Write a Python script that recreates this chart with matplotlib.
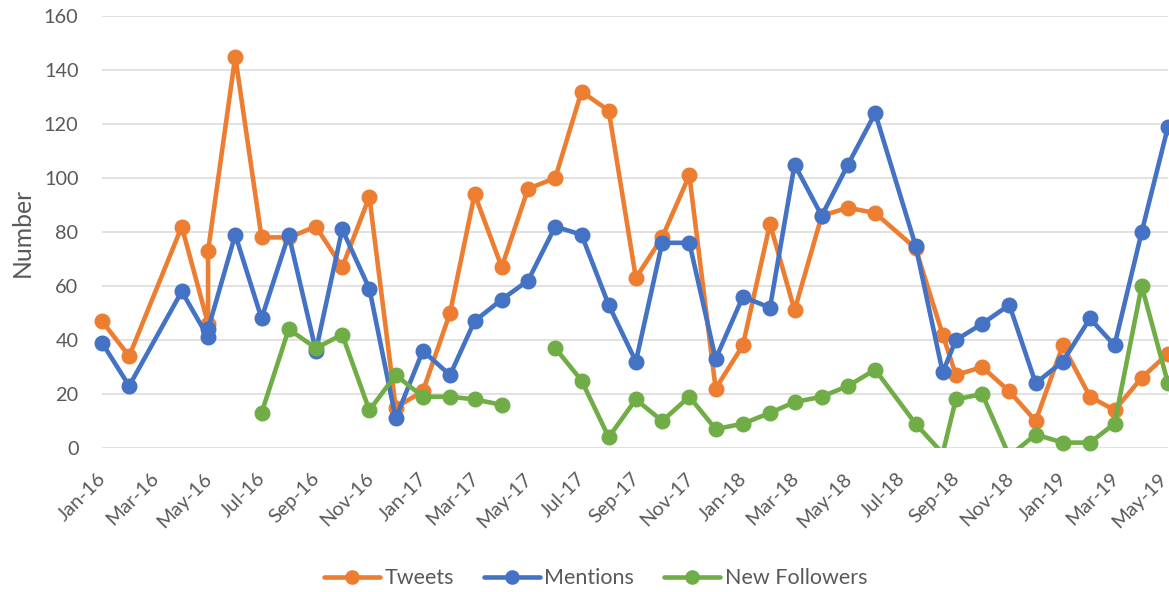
import matplotlib
matplotlib.use("Agg")
import matplotlib.pyplot as plt
from matplotlib.lines import Line2D
from matplotlib.transforms import ScaledTranslation
import numpy as np
import pandas as pd

plt.rcParams['font.family'] = ['Lato', 'DejaVu Sans']

# ---- data ----
dates = pd.to_datetime([
    "2016-01-01", "2016-02-01", "2016-04-01", "2016-05-01", "2016-05-01", "2016-06-01",
    "2016-07-01", "2016-08-01", "2016-09-01", "2016-10-01", "2016-11-01", "2016-12-01",
    "2017-01-01", "2017-02-01", "2017-03-01", "2017-04-01", "2017-05-01", "2017-06-01",
    "2017-07-01", "2017-08-01", "2017-09-01", "2017-10-01", "2017-11-01", "2017-12-01",
    "2018-01-01", "2018-02-01", "2018-03-01", "2018-04-01", "2018-05-01", "2018-06-01",
    "2018-07-17", "2018-08-17", "2018-09-01", "2018-10-01", "2018-11-01", "2018-12-01",
    "2019-01-01", "2019-02-01", "2019-03-01", "2019-04-01", "2019-05-01",
])

tweets = [47, 34, 82, 46, 73, 145, 78, 78, 82, 67, 93, 15,
          21, 50, 94, 67, 96, 100, 132, 125, 63, 78, 101, 22,
          38, 83, 51, 86, 89, 87, 74, 42, 27, 30, 21, 10,
          38, 19, 14, 26, 35]

mentions = [39, 23, 58, 41, 44, 79, 48, 79, 36, 81, 59, 11,
            36, 27, 47, 55, 62, 82, 79, 53, 32, 76, 76, 33,
            56, 52, 105, 86, 105, 124, 75, 28, 40, 46, 53, 24,
            32, 48, 38, 80, 119]

new_followers = [np.nan, np.nan, np.nan, np.nan, np.nan, np.nan, 13, 44, 37, 42, 14, 27,
                 19, 19, 18, 16, np.nan, 37, 25, 4, 18, 10, 19, 7,
                 9, 13, 17, 19, 23, 29, 9, -2, 18, 20, -3, 5,
                 2, 2, 9, 60, 24]

series_names = ["Tweets", "Mentions", "New Followers"]
series_colors = ["#ED7D31", "#4472C4", "#70AD47"]

y_ticks = list(range(0, 161, 20))
x_ticks = pd.date_range("2016-01-01", "2019-05-01", freq="2MS")
x_tick_labels = [d.strftime("%b-%y") for d in x_ticks]

# ---- figure ----
W, H = 1169, 592
fig = plt.figure(figsize=(W / 100, H / 100), dpi=100)
ax = fig.add_axes([102 / W, 1 - 448 / H, (1168 - 102) / W, 432 / H])

text_col = "#595959"
lw = 3.3
ms = 10.5
tick_fs = 14.3

for i, (name, vals, col) in enumerate(zip(series_names, [tweets, mentions, new_followers], series_colors)):
    v = np.array(vals, dtype=float)
    ax.plot(dates, v, color=col, lw=lw, zorder=3 + i,
            solid_joinstyle="round", solid_capstyle="round")
    vm = np.where((v >= 0) & (v <= 160), v, np.nan)
    ax.plot(dates, vm, ls="none", marker="o", ms=ms, color=col,
            clip_on=False, zorder=3 + i)

ax.set_ylim(0, 160)
ax.set_xlim(pd.Timestamp("2016-01-01"), pd.Timestamp("2019-05-01"))
ax.set_yticks(y_ticks)
ax.set_xticks(x_ticks)
ax.set_xticklabels(x_tick_labels, fontsize=tick_fs)

for s in ax.spines.values():
    s.set_visible(False)
ax.grid(axis="y", color="#D9D9D9", lw=1.1)
ax.grid(axis="x", visible=False)
ax.set_axisbelow(True)

ax.tick_params(axis="y", length=0, pad=17, labelsize=tick_fs, labelcolor=text_col)
ax.tick_params(axis="x", length=0, pad=20, labelsize=tick_fs, labelcolor=text_col)

ax.set_ylabel("Number", fontsize=17.8, color=text_col)
ax.yaxis.set_label_coords((33.5 - 102) / (1168 - 102), 0.5)

xlabels = ax.get_xticklabels()
for k, lbl in enumerate(xlabels):
    dx = 1 if k < len(xlabels) - 1 else -4  # keep the last label inside the canvas
    off = ScaledTranslation(dx / 100, 0, fig.dpi_scale_trans)
    lbl.set_fontsize(tick_fs)
    lbl.set_rotation(45)
    lbl.set_ha("right")
    lbl.set_va("center")
    lbl.set_rotation_mode("anchor")
    lbl.set_transform(lbl.get_transform() + off)

handles = [Line2D([0], [0], color=c, lw=lw, marker="o", ms=9.5,
                  solid_capstyle="round") for c in series_colors]
fig.legend(handles, series_names, loc="center",
           bbox_to_anchor=(595.7 / W, 1 - 578.5 / H), ncol=3, frameon=False,
           fontsize=15.5, handlelength=2.6, handletextpad=0.2,
           columnspacing=1.4, labelcolor=text_col)

fig.savefig("out.png", dpi=100)
